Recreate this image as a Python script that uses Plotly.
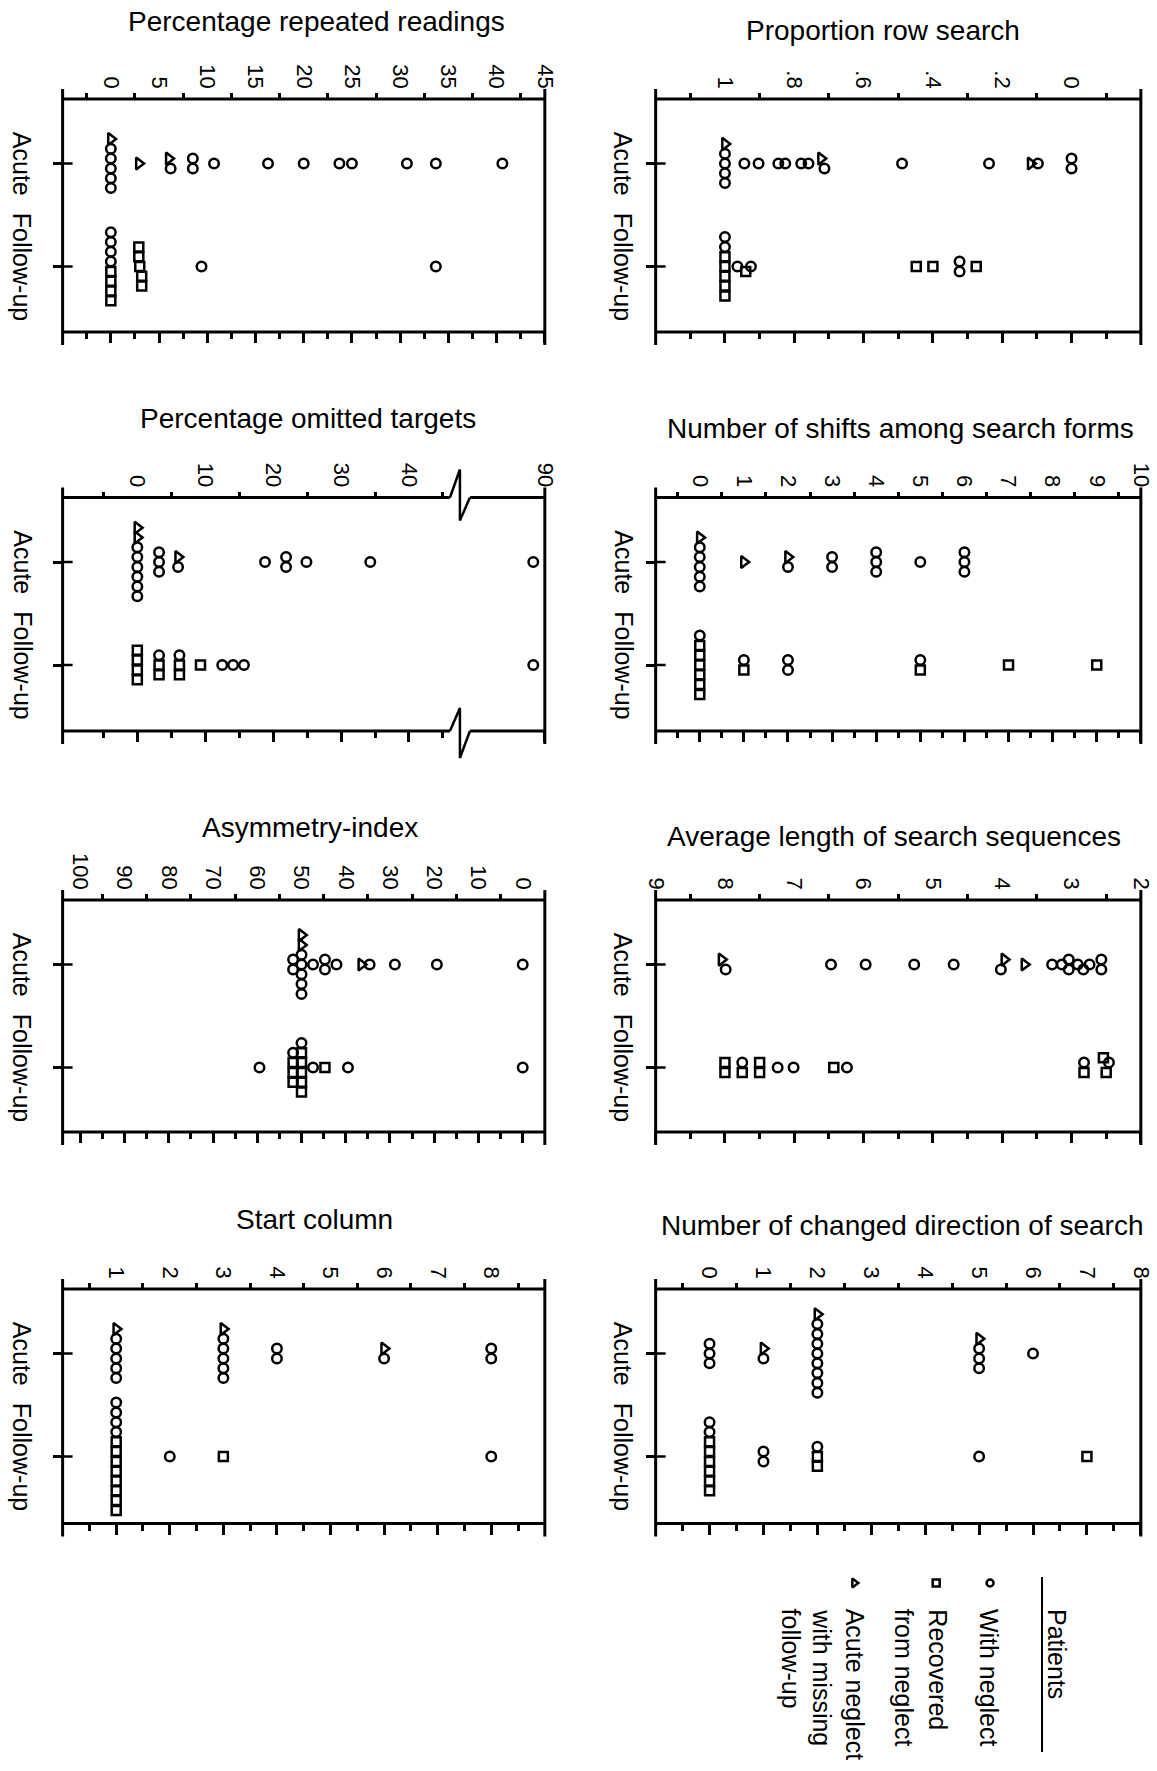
import math
import plotly.graph_objects as go

# ---------------------------------------------------------------- data
CATEGORIES = ["Acute", "Follow-up"]
TITLES = ["Proportion row search", "Percentage repeated readings",
          "Number of shifts among search forms", "Percentage omitted targets",
          "Average length of search sequences", "Asymmetry-index",
          "Number of changed direction of search", "Start column"]
LEGEND_TITLE = "Patients"
LEGEND_LINES = [["With neglect"], ["Recovered", "from neglect"],
                ["Acute neglect", "with missing", "follow-up"]]

# Proportion row search
row_acute_neglect = [1, 1, 1, 1, 0.944, 0.903, 0.846, 0.826, 0.78, 0.759, 0.713, 0.489, 0.238, 0.097, 0, 0]
row_acute_missing = [1, 0.723, 0.118]
row_fu_neglect = [1, 1, 0.964, 0.925, 0.323, 0.323]
row_fu_recovered = [1, 1, 1, 1, 1, 0.94, 0.448, 0.40, 0.275]

# Percentage repeated readings
rep_acute_neglect = [0, 0, 0, 0, 0, 6.2, 8.5, 8.5, 10.7, 16.3, 20.0, 23.7, 25.0, 30.7, 33.7, 40.6]
rep_acute_missing = [0, 2.9, 6.0]
rep_fu_neglect = [0, 0, 0, 0, 9.4, 33.7]
rep_fu_recovered = [0, 0, 0, 0, 3.0, 2.9, 3.2, 3.2, 2.9]

# Number of shifts among search forms
shift_acute_neglect = [0, 0, 0, 0, 0, 2, 3, 3, 4, 4, 4, 5, 6, 6, 6]
shift_acute_missing = [0, 1, 2]
shift_fu_neglect = [0, 1, 2, 2, 5]
shift_fu_recovered = [0, 0, 0, 0, 0, 0, 1, 5, 7, 9]

# Percentage omitted targets (axis broken between 45 and 90)
omit_acute_neglect = [0, 0, 0, 0, 0, 0, 3.2, 3.2, 3.2, 6.0, 18.8, 21.9, 21.9, 24.9, 34.3, 88.3]
omit_acute_missing = [0, 0, 6.0]
omit_fu_neglect = [3.2, 6.2, 12.5, 14.1, 15.7, 88.3]
omit_fu_recovered = [0, 0, 0, 0, 3.2, 3.2, 6.2, 6.2, 9.3]

# Average length of search sequences
avg_acute_neglect = [7.99, 6.47, 5.97, 5.27, 4.70, 4.02, 3.28, 3.14, 3.04, 3.04, 2.91, 2.83, 2.74, 2.57, 2.57]
avg_acute_missing = [8.05, 3.97, 3.68]
avg_fu_neglect = [7.75, 7.24, 7.01, 6.24, 2.82, 2.46]
avg_fu_recovered = [8.0, 8.0, 7.75, 7.5, 7.5, 6.43, 2.82, 2.54, 2.5]

# Asymmetry-index
asym_acute_neglect = [50, 50, 50, 50, 50, 51.9, 51.9, 47.4, 44.7, 44.7, 42.1, 34.6, 28.9, 19.4, 0]
asym_acute_missing = [50, 50, 36.5]
asym_fu_neglect = [50, 51.9, 47.4, 39.5, 59.5, 0]
asym_fu_recovered = [50, 50, 50, 50, 50, 51.9, 51.9, 51.9, 44.7]

# Number of changed direction of search
dir_acute_neglect = [0, 0, 0, 1, 2, 2, 2, 2, 2, 2, 2, 2, 5, 5, 5, 6]
dir_acute_missing = [1, 2, 5]
dir_fu_neglect = [0, 0, 1, 1, 2, 5]
dir_fu_recovered = [0, 0, 0, 0, 0, 0, 2, 2, 7]

# Start column
start_acute_neglect = [1, 1, 1, 1, 1, 3, 3, 3, 3, 3, 4, 4, 6, 8, 8]
start_acute_missing = [1, 3, 6]
start_fu_neglect = [1, 1, 1, 1, 2, 8]
start_fu_recovered = [1, 1, 1, 1, 1, 1, 1, 1, 3]

# tick values / labels
row_tickvals = [1, 0.8, 0.6, 0.4, 0.2, 0]
row_ticktext = ["1", ".8", ".6", ".4", ".2", "0"]
row_minorvals = [1.1, 0.9, 0.7, 0.5, 0.3, 0.1, -0.1]
rep_tickvals = [0, 5, 10, 15, 20, 25, 30, 35, 40, 45]
rep_ticktext = ["0", "5", "10", "15", "20", "25", "30", "35", "40", "45"]
rep_minorvals = [-2.5, 2.5, 7.5, 12.5, 17.5, 22.5, 27.5, 32.5, 37.5, 42.5]
shift_tickvals = [0, 1, 2, 3, 4, 5, 6, 7, 8, 9, 10]
shift_ticktext = ["0", "1", "2", "3", "4", "5", "6", "7", "8", "9", "10"]
shift_minorvals = [-0.5, 0.5, 1.5, 2.5, 3.5, 4.5, 5.5, 6.5, 7.5, 8.5, 9.5]
omit_tickvals = [0, 10, 20, 30, 40, 90]
omit_ticktext = ["0", "10", "20", "30", "40", "90"]
omit_minorvals = [-5, 5, 15, 25, 35, 45]
avg_tickvals = [9, 8, 7, 6, 5, 4, 3, 2]
avg_ticktext = ["9", "8", "7", "6", "5", "4", "3", "2"]
avg_minorvals = [8.5, 7.5, 6.5, 5.5, 4.5, 3.5, 2.5]
asym_tickvals = [100, 90, 80, 70, 60, 50, 40, 30, 20, 10, 0]
asym_ticktext = ["100", "90", "80", "70", "60", "50", "40", "30", "20", "10", "0"]
asym_minorvals = [95, 85, 75, 65, 55, 45, 35, 25, 15, 5]
dir_tickvals = [0, 1, 2, 3, 4, 5, 6, 7, 8]
dir_ticktext = ["0", "1", "2", "3", "4", "5", "6", "7", "8"]
dir_minorvals = [-0.5, 0.5, 1.5, 2.5, 3.5, 4.5, 5.5, 6.5, 7.5]
start_tickvals = [1, 2, 3, 4, 5, 6, 7, 8]
start_ticktext = ["1", "2", "3", "4", "5", "6", "7", "8"]
start_minorvals = [0.5, 1.5, 2.5, 3.5, 4.5, 5.5, 6.5, 7.5, 8.5]

# ---------------------------------------------------------------- layout geometry (pixels)
W, H = 1157, 1771
FONT = "Liberation Sans, Arial, Helvetica, sans-serif"
ROW_TOP = [99, 497.5, 900, 1289]
ROW_BOT = [332, 731, 1132, 1523.5]
COL_X = {"L": (62, 545), "R": (656, 1142)}
CAT_LABEL_X = {"L": 22, "R": 624}
ACUTE_FROM_TOP, FU_FROM_TOP = 64.5, 167.5
BREAK_AT, BREAK_SHIFT = 47.5, 30   # omitted targets: values above the break drawn 30 units lower
# horizontal calibration of the rendered page (target px -> page px)
XOFF, XSCALE = 11.3, 0.98


def omit_scale(v):
    return v - BREAK_SHIFT if v > BREAK_AT else v


def ident(v):
    return v


panels = [
    dict(col="R", row=0, xr=[1.2, -0.2], tv=row_tickvals, tt=row_ticktext, mv=row_minorvals,
         data=(row_acute_neglect, row_acute_missing, row_fu_neglect, row_fu_recovered),
         tx=884, ty=31, f=ident),
    dict(col="L", row=0, xr=[-5, 45], tv=rep_tickvals, tt=rep_ticktext, mv=rep_minorvals,
         data=(rep_acute_neglect, rep_acute_missing, rep_fu_neglect, rep_fu_recovered),
         tx=316, ty=21, f=ident),
    dict(col="R", row=1, xr=[-1, 10], tv=shift_tickvals, tt=shift_ticktext, mv=shift_minorvals,
         data=(shift_acute_neglect, shift_acute_missing, shift_fu_neglect, shift_fu_recovered),
         tx=901, ty=428, f=ident),
    dict(col="L", row=1, xr=[-11, 60], tv=omit_tickvals, tt=omit_ticktext, mv=omit_minorvals,
         data=(omit_acute_neglect, omit_acute_missing, omit_fu_neglect, omit_fu_recovered),
         tx=308, ty=419, f=omit_scale, brk=True),
    dict(col="R", row=2, xr=[9, 2], tv=avg_tickvals, tt=avg_ticktext, mv=avg_minorvals,
         data=(avg_acute_neglect, avg_acute_missing, avg_fu_neglect, avg_fu_recovered),
         tx=895, ty=836, f=ident),
    dict(col="L", row=2, xr=[104, -5], tv=asym_tickvals, tt=asym_ticktext, mv=asym_minorvals,
         data=(asym_acute_neglect, asym_acute_missing, asym_fu_neglect, asym_fu_recovered),
         tx=310, ty=828, f=ident),
    dict(col="R", row=3, xr=[-1, 8], tv=dir_tickvals, tt=dir_ticktext, mv=dir_minorvals,
         data=(dir_acute_neglect, dir_acute_missing, dir_fu_neglect, dir_fu_recovered),
         tx=903, ty=1225, f=ident),
    dict(col="L", row=3, xr=[0, 9], tv=start_tickvals, tt=start_ticktext, mv=start_minorvals,
         data=(start_acute_neglect, start_acute_missing, start_fu_neglect, start_fu_recovered),
         tx=314, ty=1219, f=ident),
]

MK = {
    "circle": dict(symbol="circle-open", size=9.5, color="black", line=dict(width=2.5, color="black")),
    "square": dict(symbol="square-open", size=9, color="black", line=dict(width=2.5, color="black")),
    "triangle": dict(symbol="triangle-right-open", size=10.5, color="black", line=dict(width=2.5, color="black")),
}
MK_LEG = {
    "circle": dict(symbol="circle-open", size=7, color="black", line=dict(width=2.5, color="black")),
    "square": dict(symbol="square-open", size=7, color="black", line=dict(width=2.5, color="black")),
    "triangle": dict(symbol="triangle-right-open", size=8, color="black", line=dict(width=2.5, color="black")),
}


def X(px):
    return ((px - XOFF) / XSCALE) / W


def Y(py):
    return 1 - py / H


def swarm(values, ranks, ppu, step=9.8, join=4.5, clear=6.5):
    xs = [v * ppu for v in values]
    idx = sorted(range(len(xs)), key=lambda i: (xs[i], ranks[i]))
    clusters = []
    for i in idx:
        if clusters and abs(xs[i] - xs[clusters[-1][0]]) <= join:
            clusters[-1].append(i)
        else:
            clusters.append([i])
    shifts = [0.0]
    for k in range(1, 16):
        shifts += [k * step / 2, -k * step / 2]
    placed, offs = [], [0.0] * len(xs)
    for c in sorted(clusters, key=lambda c: (-len(c), xs[c[0]])):
        c.sort(key=lambda i: (ranks[i], xs[i]))
        base = [(j - (len(c) - 1) / 2) * step for j in range(len(c))]
        chosen = 0.0
        for sh in shifts:
            if all(math.hypot(xs[i] - px, base[j] + sh - py) >= clear
                   for j, i in enumerate(c) for px, py in placed):
                chosen = sh
                break
        for j, i in enumerate(c):
            offs[i] = base[j] + chosen
            placed.append((xs[i], offs[i]))
    return offs


fig = go.Figure()
layout = {}
shapes = []
annotations = []
LW = 3
line_style = dict(color="black", width=LW)

for k, p in enumerate(panels):
    n = k + 1
    xs_id = "x" if n == 1 else f"x{n}"
    ys_id = "y" if n == 1 else f"y{n}"
    xb_id = f"x{n + 8}"
    x0, x1 = COL_X[p["col"]]
    top, bot = ROW_TOP[p["row"]], ROW_BOT[p["row"]]
    hpx = bot - top
    unit = FU_FROM_TOP - ACUTE_FROM_TOP
    yr = [1 + (hpx - FU_FROM_TOP) / unit, -ACUTE_FROM_TOP / unit]
    f = p["f"]
    ppu = (x1 - x0) / abs(p["xr"][1] - p["xr"][0])

    an, am, fn, fr = p["data"]
    a_vals = [f(v) for v in an] + [f(v) for v in am]
    a_rank = [1] * len(an) + [0] * len(am)
    a_off = swarm(a_vals, a_rank, ppu)
    f_vals = [f(v) for v in fn] + [f(v) for v in fr]
    f_rank = [1] * len(fn) + [2] * len(fr)
    f_off = swarm(f_vals, f_rank, ppu)

    groups = [
        (a_vals[:len(an)], [0 + o / unit for o in a_off[:len(an)]], "circle"),
        (a_vals[len(an):], [0 + o / unit for o in a_off[len(an):]], "triangle"),
        (f_vals[:len(fn)], [1 + o / unit for o in f_off[:len(fn)]], "circle"),
        (f_vals[len(fn):], [1 + o / unit for o in f_off[len(fn):]], "square"),
    ]
    for gx, gy, sym in groups:
        fig.add_trace(go.Scatter(x=gx, y=gy, mode="markers", marker=MK[sym],
                                 xaxis=xs_id, yaxis=ys_id, showlegend=False, hoverinfo="skip"))
    fig.add_trace(go.Scatter(x=[None], y=[None], mode="markers", xaxis=xb_id, yaxis=ys_id,
                             showlegend=False, hoverinfo="skip"))

    tv = [f(v) for v in p["tv"]]
    layout["xaxis" if n == 1 else f"xaxis{n}"] = dict(
        domain=[X(x0), X(x1)], anchor=ys_id, side="top", range=p["xr"],
        tickmode="array", tickvals=tv, ticktext=p["tt"], tickangle=90, ticks="",
        showline=False, showgrid=False, zeroline=False, ticklabelstandoff=6,
        tickfont=dict(family=FONT, size=22, color="black"),
        minor=dict(tickmode="array", tickvals=p["mv"], ticks="outside", ticklen=5,
                   tickwidth=2.5, tickcolor="black", showgrid=False))
    layout[f"xaxis{n + 8}"] = dict(
        overlaying=xs_id, anchor=ys_id, side="bottom", range=p["xr"],
        tickmode="array", tickvals=tv, ticks="outside", ticklen=10, tickwidth=2.5,
        tickcolor="black", showticklabels=False, showline=False, showgrid=False, zeroline=False,
        minor=dict(tickmode="array", tickvals=p["mv"], ticks="outside", ticklen=6,
                   tickwidth=2.5, tickcolor="black", showgrid=False))
    layout["yaxis" if n == 1 else f"yaxis{n}"] = dict(
        domain=[Y(bot), Y(top)], anchor=xs_id, range=yr, tickmode="array",
        tickvals=[0, 1], ticks="outside", ticklen=9, tickwidth=2.5, tickcolor="black",
        showticklabels=False, showline=False, showgrid=False, zeroline=False)

    # frame
    if p.get("brk"):
        xb = x0 + (BREAK_AT - p["xr"][0]) * ppu
        for yy, up, dn in ((top, 28, 23), (bot, 23, 27)):
            shapes.append(dict(type="line", xref="paper", yref="paper", x0=X(x0), x1=X(xb - 10),
                               y0=Y(yy), y1=Y(yy), line=line_style))
            shapes.append(dict(type="line", xref="paper", yref="paper", x0=X(xb + 10), x1=X(x1),
                               y0=Y(yy), y1=Y(yy), line=line_style))
            shapes.append(dict(type="path", xref="paper", yref="paper",
                               path=f"M {X(xb - 10)},{Y(yy)} L {X(xb)},{Y(yy - up)} "
                                    f"L {X(xb)},{Y(yy + dn)} L {X(xb + 10)},{Y(yy)}",
                               line=dict(color="black", width=2.5)))
    else:
        for yy in (top, bot):
            shapes.append(dict(type="line", xref="paper", yref="paper", x0=X(x0), x1=X(x1),
                               y0=Y(yy), y1=Y(yy), line=line_style))
    for xx in (x0, x1):
        shapes.append(dict(type="line", xref="paper", yref="paper", x0=X(xx), x1=X(xx),
                           y0=Y(top - 10), y1=Y(bot + 13), line=line_style))
    for ci, cat in enumerate(CATEGORIES):
        shapes.append(dict(type="line", xref="paper", yref=ys_id, x0=X(x0), x1=X(x0 + 10),
                           y0=ci, y1=ci, line=dict(color="black", width=2.5)))
        annotations.append(dict(text=cat, xref="paper", yref=ys_id, x=X(CAT_LABEL_X[p["col"]]), y=ci,
                                xanchor="center", yanchor="middle", textangle=90, showarrow=False,
                                font=dict(family=FONT, size=25, color="black")))
    annotations.append(dict(text=TITLES[k], xref="paper", yref="paper", x=X(p["tx"]), y=Y(p["ty"]),
                            xanchor="center", yanchor="middle", showarrow=False,
                            font=dict(family=FONT, size=28, color="black")))

# ---------------------------------------------------------------- legend (rotated)
layout["xaxis17"] = dict(domain=[0, 1], range=[XOFF, XOFF + XSCALE * W], visible=False, anchor="y17")
layout["yaxis17"] = dict(domain=[0, 1], range=[H, 0], visible=False, anchor="x17")
LEG_TOP = 1607
legend_symbols = [("circle", 991), ("square", 937), ("triangle", 855)]
legend_text_x = [[990], [939, 905], [856, 823, 792]]
for (sym, sx), lines, lxs in zip(legend_symbols, LEGEND_LINES, legend_text_x):
    fig.add_trace(go.Scatter(x=[sx], y=[1583], mode="markers", marker=MK_LEG[sym], xaxis="x17",
                             yaxis="y17", showlegend=False, hoverinfo="skip"))
    for txt, lx in zip(lines, lxs):
        annotations.append(dict(text=txt, xref="paper", yref="paper", x=X(lx), y=Y(LEG_TOP),
                                xanchor="center", yanchor="top", textangle=90, showarrow=False,
                                font=dict(family=FONT, size=25, color="black")))
annotations.append(dict(text=LEGEND_TITLE, xref="paper", yref="paper", x=X(1058), y=Y(LEG_TOP),
                        xanchor="center", yanchor="top", textangle=90, showarrow=False,
                        font=dict(family=FONT, size=25, color="black")))
shapes.append(dict(type="line", xref="paper", yref="paper", x0=X(1043), x1=X(1043),
                   y0=Y(1577), y1=Y(1752), line=dict(color="black", width=2)))

fig.update_layout(**layout)
fig.update_layout(width=W, height=H, margin=dict(l=0, r=0, t=0, b=0),
                  paper_bgcolor="white", plot_bgcolor="rgba(0,0,0,0)", showlegend=False,
                  font=dict(family=FONT, color="black"), shapes=shapes, annotations=annotations)

fig.write_html("out.html", config={"displayModeBar": False},
               post_script="document.body.style.margin='0';document.body.style.overflow='hidden';")
